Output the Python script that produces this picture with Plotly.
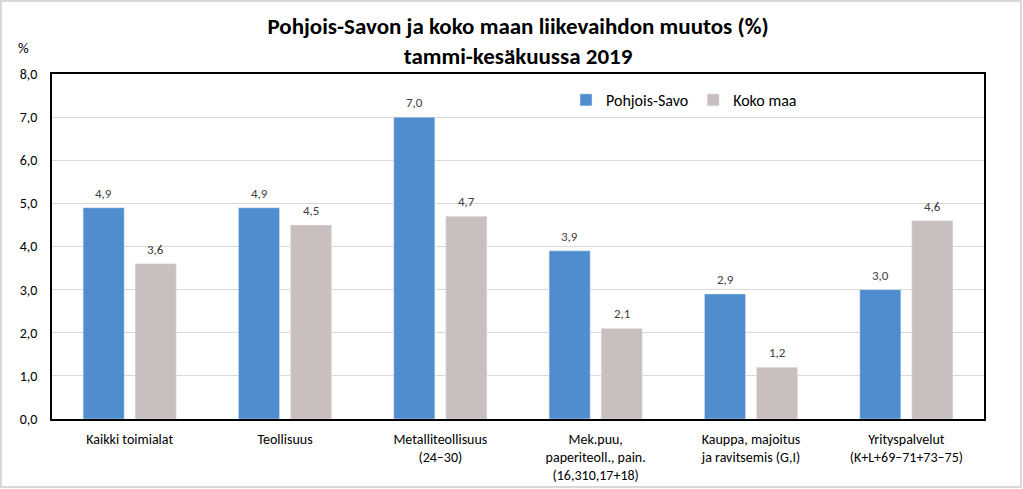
import plotly.graph_objects as go

categories = [
    "Kaikki toimialat",
    "Teollisuus",
    "Metalliteollisuus<br>(24–30)",
    "Mek.puu,<br>paperiteoll., pain.<br>(16,310,17+18)",
    "Kauppa, majoitus<br>ja ravitsemis (G,I)",
    "Yrityspalvelut<br>(K+L+69–71+73–75)",
]
pohjois_savo = [4.9, 4.9, 7.0, 3.9, 2.9, 3.0]
koko_maa = [3.6, 4.5, 4.7, 2.1, 1.2, 4.6]
tick_vals = [0, 1, 2, 3, 4, 5, 6, 7, 8]

FONT = "Carlito, Lato, 'Open Sans', sans-serif"
BLUE = "#4f8dcf"
GRAY = "#c9bfbe"

def fmt(v):
    return f"{v:.1f}".replace(".", ",")

fig = go.Figure()
fig.add_trace(go.Bar(name="Pohjois-Savo", x=categories, y=pohjois_savo, marker_color=BLUE))
fig.add_trace(go.Bar(name="Koko maa", x=categories, y=koko_maa, marker_color=GRAY))

W, H = 1023, 489
L, R, T, B = 52, 39, 74, 70
pw, ph = W - L - R, H - T - B

def px(x):
    return (x - L) / pw

def py(y):
    return (H - B - y) / ph

annotations = []
for series, shift in ((pohjois_savo, -26), (koko_maa, 26)):
    for c, v in zip(categories, series):
        annotations.append(dict(
            x=c, y=v, xref="x", yref="y", text=fmt(v), showarrow=False,
            xshift=shift, yshift=5, yanchor="bottom", xanchor="center",
            font=dict(size=13, family=FONT, color="#404040"),
        ))
annotations.append(dict(
    text="%", xref="paper", yref="paper", x=px(23), y=py(48),
    showarrow=False, font=dict(size=15, family=FONT, color="#000000"),
    xanchor="center", yanchor="middle",
))

fig.update_layout(
    width=W, height=H,
    margin=dict(l=L, r=R, t=T, b=B, autoexpand=False),
    paper_bgcolor="white", plot_bgcolor="white",
    separators=",.",
    barmode="group", bargap=0.33, bargroupgap=0.21,
    font=dict(family=FONT, size=14, color="#000000"),
    title=dict(
        text="<b>Pohjois-Savon ja koko maan liikevaihdon muutos (%)<br>tammi-kesäkuussa 2019</b>",
        x=0.5, xanchor="center", xref="paper", y=1 - 34 / H, yanchor="middle",
        font=dict(size=23, family=FONT, color="#000000"),
    ),
    showlegend=True,
    legend=dict(
        orientation="h", x=px(566), y=py(100), xanchor="left", yanchor="middle",
        font=dict(size=16, family=FONT, color="#000000"), bgcolor="rgba(0,0,0,0)",
        itemwidth=30, traceorder="normal",
    ),
    xaxis=dict(
        showline=True, linecolor="black", linewidth=1.5, mirror=True,
        ticks="", tickfont=dict(size=14, family=FONT, color="#000000"),
        showgrid=False, ticklabelstandoff=6, automargin=False,
    ),
    yaxis=dict(
        range=[0, 8], tickvals=tick_vals, tickformat=".1f",
        showline=True, linecolor="black", linewidth=1.5, mirror=True,
        showgrid=True, gridcolor="#d9d9d9", gridwidth=1,
        ticks="", tickfont=dict(size=14, family=FONT, color="#000000"),
        zeroline=False, ticklabelstandoff=10, automargin=False,
    ),
    annotations=annotations,
    shapes=[dict(
        type="rect", xref="paper", yref="paper",
        x0=px(1), x1=px(W - 2), y0=py(H - 2), y1=py(1),
        line=dict(color="#d9d9d9", width=2), fillcolor="rgba(0,0,0,0)", layer="below",
    )],
)

fig.write_html("out.html", config={"displayModeBar": False},
               post_script="document.body.style.margin='0';")
